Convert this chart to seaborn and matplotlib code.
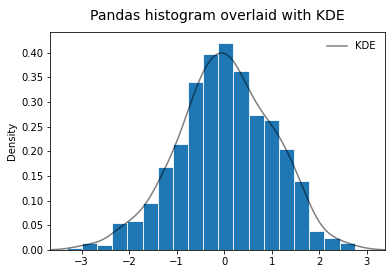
import numpy as np
import pandas as pd
import matplotlib
matplotlib.use("Agg")
import matplotlib.pyplot as plt
import seaborn as sns

bin_edges = [-3.310, -2.991, -2.673, -2.354, -2.036, -1.717, -1.398, -1.080,
             -0.761, -0.443, -0.124, 0.195, 0.513, 0.832, 1.150, 1.469,
             1.788, 2.106, 2.425, 2.743, 3.062]
densities = [0.004, 0.015, 0.0095, 0.054, 0.058, 0.095, 0.169, 0.215, 0.341,
             0.397, 0.420, 0.362, 0.274, 0.263, 0.205, 0.139, 0.038, 0.025,
             0.014, 0.003]
title = "Pandas histogram overlaid with KDE"
ylabel = "Density"
kde_label = "KDE"

edges = np.array(bin_edges)
df = pd.DataFrame({
    "x": (edges[:-1] + edges[1:]) / 2,
    "w": densities,
})

dpi = 72
fig, ax = plt.subplots(figsize=(392 / dpi, 274 / dpi), dpi=dpi)

sns.histplot(data=df, x="x", weights="w", bins=list(bin_edges), stat="count",
             color="#1f77b4", edgecolor="white", linewidth=0.8, alpha=1.0, ax=ax)
sns.kdeplot(data=df, x="x", weights="w", bw_adjust=0.44, cut=6, gridsize=400,
            color="black", alpha=0.5, linewidth=1.5, label=kde_label, ax=ax)

ax.set_xlim(-3.66, 3.38)
ax.set_ylabel(ylabel)
ax.set_xlabel("")
ax.set_title(title, fontsize=14, pad=12)
ax.legend(frameon=False, loc="upper right")

fig.subplots_adjust(left=0.128, right=0.982, top=0.882, bottom=0.0876)
fig.savefig("out.png", dpi=dpi)
